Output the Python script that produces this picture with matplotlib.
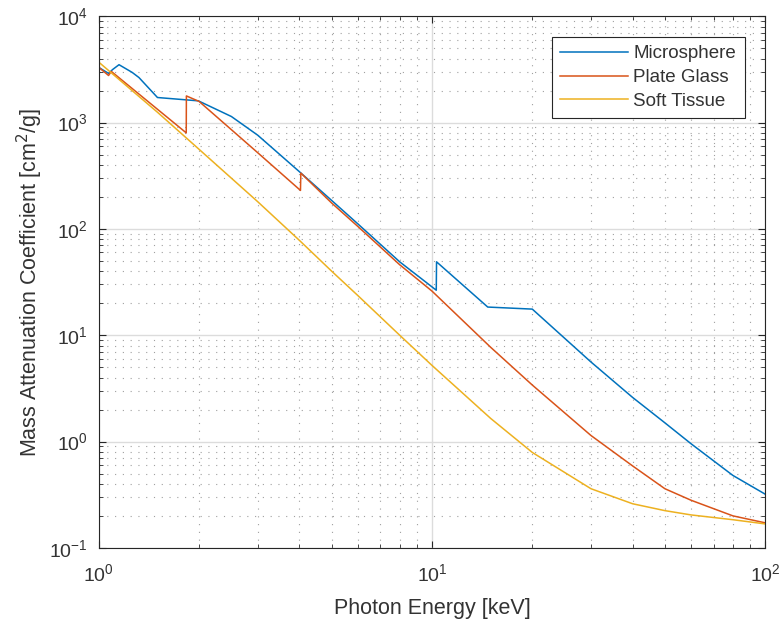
import matplotlib.pyplot as plt
import numpy as np

plt.rcParams['font.family'] = ['Liberation Sans', 'DejaVu Sans']

# Microsphere
e_micro = [1.0, 1.07, 1.10, 1.15, 1.26, 1.32, 1.50, 1.99, 2.5, 3.0, 4.0, 5.0, 6.0, 8.0,
           10.3, 10.32, 14.7, 20.0, 30.0, 40.0, 50.0, 60.0, 80.0, 100.0]
mu_micro = [3300, 2900, 3150, 3500, 2960, 2650, 1720, 1600, 1140, 760, 345, 185, 111, 49,
            26.5, 49, 18.4, 17.6, 5.6, 2.6, 1.5, 0.95, 0.48, 0.32]

# Plate glass
e_glass = [1.0, 1.07, 1.09, 1.83, 1.832, 2.0, 3.0, 4.03, 4.04, 5.0, 6.0, 8.0, 10.0,
           15.0, 20.0, 30.0, 40.0, 50.0, 60.0, 80.0, 100.0]
mu_glass = [3300, 2770, 3030, 800, 1780, 1580, 520, 230, 335, 175, 105, 46, 26,
            7.7, 3.4, 1.14, 0.59, 0.36, 0.28, 0.20, 0.172]

# Soft tissue
e_tissue = [1.0, 1.5, 2.0, 3.0, 4.0, 5.0, 6.0, 8.0, 10.0, 15.0, 20.0, 30.0, 40.0,
            50.0, 60.0, 80.0, 100.0]
mu_tissue = [3700, 1250, 560, 180, 78, 40, 23.5, 10, 5.2, 1.65, 0.79, 0.36, 0.26,
             0.224, 0.204, 0.184, 0.168]

txt = '#333333'

fig = plt.figure(figsize=(7.84, 6.24), dpi=100)
ax = fig.add_axes([0.126, 0.122, 0.850, 0.852])

ax.loglog(e_micro, mu_micro, color='#0072BD', lw=1.1, label='Microsphere')
ax.loglog(e_glass, mu_glass, color='#D95319', lw=1.1, label='Plate Glass')
ax.loglog(e_tissue, mu_tissue, color='#EDB120', lw=1.1, label='Soft Tissue')

ax.set_xlim(1, 100)
ax.set_ylim(0.1, 1e4)
ax.grid(True, which='major', color='#dcdcdc', lw=1.0)
ax.grid(True, which='minor', color='#a0a0a0', lw=0.8, linestyle=(0, (1, 6)))
ax.set_axisbelow(True)
ax.tick_params(which='both', direction='in', top=True, right=True, labelsize=14,
               color='#262626', labelcolor=txt)
ax.tick_params(axis='x', which='major', pad=11)
ax.tick_params(axis='y', which='major', pad=8)
ax.tick_params(which='major', length=5)
ax.tick_params(which='minor', length=3)
for s in ax.spines.values():
    s.set_color('#262626')
    s.set_linewidth(0.8)

ax.set_xlabel('Photon Energy [keV]', fontsize=15.5, color=txt, labelpad=9)
ax.set_ylabel('Mass Attenuation Coefficient [cm$^2$/g]', fontsize=15.5, color=txt,
              labelpad=3)

leg = ax.legend(loc='upper right', fontsize=13.5, fancybox=False, framealpha=1,
                edgecolor='#262626', borderaxespad=1.1, handlelength=3.6,
                handletextpad=0.3, labelspacing=0.35, borderpad=0.45,
                labelcolor=txt)
leg.get_frame().set_linewidth(0.8)

fig.savefig('out.png', dpi=100)
